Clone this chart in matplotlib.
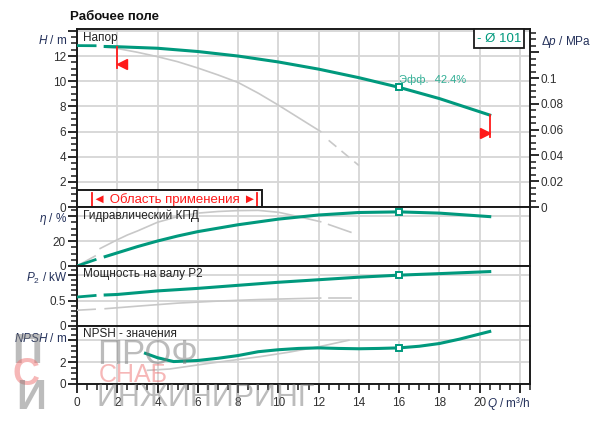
import matplotlib

matplotlib.use("Agg")
import matplotlib.pyplot as plt
from matplotlib.patches import Rectangle
from matplotlib.ticker import MultipleLocator, FixedLocator, FixedFormatter

plt.rcParams["font.family"] = ["Liberation Sans", "DejaVu Sans"]
plt.rcParams["mathtext.fontset"] = "custom"
plt.rcParams["mathtext.it"] = "Liberation Sans:italic"
plt.rcParams["mathtext.rm"] = "Liberation Sans"

GREEN = "#00997d"
GREEN_TXT = "#2fae94"
GRAY = "#c8c8c8"
RED = "#ff1a1a"
GRID = "#d6d6d6"
LABEL = "#23305a"
TICK = "#303030"

# --- head (main impeller, green) ---
q_h_dash = [0.0, 0.9]
h_dash = [12.83, 12.82]
q_h = [1.4, 2, 4, 6, 8, 10, 12, 14, 16, 18, 20.5]
h_main = [12.76, 12.74, 12.62, 12.36, 12.0, 11.53, 10.96, 10.28, 9.51, 8.62, 7.31]

# --- head (gray reference curve) ---
q_hg = [1.4, 2, 3, 4, 5, 6, 7, 8, 9, 10, 11, 12.1]
h_gray = [12.7, 12.6, 12.3, 11.95, 11.55, 11.05, 10.5, 9.9, 9.05, 8.1, 7.1, 6.0]
q_hg_end = [12.5, 14.0]
h_gray_end = [5.3, 3.3]

# --- efficiency ---
q_eta_dash = [0.0, 0.9]
eta_dash = [0.0, 5.0]
q_eta = [1.4, 2, 3, 4, 5, 6, 8, 10, 12, 14, 16, 18, 20.5]
eta_main = [7.5, 10.5, 15.5, 20.0, 24.0, 27.5, 33.0, 37.5, 40.8, 42.8, 43.3, 42.3, 39.5]
q_etag_dash = [0.0, 0.9]
etag_dash = [0.0, 8.0]
q_etag = [1.15, 2, 2.5, 3, 4, 5, 6, 7, 8, 9, 10, 11, 12.1]
eta_gray = [14.0, 21.0, 24.8, 28.0, 35.0, 39.5, 42.3, 43.6, 44.3, 44.5, 43.0, 39.5, 35.4]
q_etag_end = [12.5, 13.6]
etag_end = [33.2, 27.0]

# --- shaft power P2 ---
q_p_dash = [0.0, 0.9]
p_dash = [0.57, 0.60]
q_p = [1.4, 2, 4, 6, 8, 10, 12, 14, 16, 18, 20.5]
p_main = [0.61, 0.62, 0.69, 0.74, 0.80, 0.86, 0.91, 0.96, 1.0, 1.03, 1.07]
q_pg_dash = [0.0, 0.9]
pg_dash = [0.31, 0.33]
q_pg = [1.4, 3, 5, 7, 9, 12.1]
p_gray = [0.34, 0.39, 0.45, 0.49, 0.52, 0.55]
q_pg_end = [12.5, 13.6]
pg_end = [0.56, 0.56]

# --- NPSH ---
q_n = [3.4, 4, 4.8, 6, 7, 8, 9, 10, 11, 12, 13, 14, 15, 16, 17, 18, 19, 20.5]
npsh_main = [2.8, 2.4, 2.05, 2.15, 2.35, 2.6, 2.95, 3.13, 3.25, 3.3, 3.25, 3.22,
             3.25, 3.3, 3.45, 3.7, 4.1, 4.8]
q_ng = [3.5, 4.6, 6.6, 9.1, 10.5, 12, 13.5]
npsh_gray = [1.25, 1.37, 1.9, 2.5, 2.9, 3.4, 4.0]

# duty point
q_duty = 16
h_duty = 9.51
eta_duty = 43.3
p_duty = 1.0
npsh_duty = 3.3

# operating limits (red marks)
lim_q = [2.0, 20.5]
lim_top = [12.74, 7.31]
lim_bot = [11.07, 5.6]
lim_arrow_q = [2.25, 20.27]
lim_arrow_h = [11.34, 5.9]

# application range box
range_q = [0.75, 8.95]

X_MAX = 22.5
W, H = 600, 429


def fx(px):
    return px / W


def fy(py):
    return 1 - py / H


fig = plt.figure(figsize=(6.0, 4.29), dpi=100)

left, right = 77, 530
panels = [(29, 207), (207, 266), (266, 326), (326, 384)]
axes = []
for top, bot in panels:
    ax = fig.add_axes([fx(left), fy(bot), fx(right - left), (bot - top) / H])
    axes.append(ax)
ax_h, ax_e, ax_p, ax_n = axes

ylims = [(0, 14.15), (0, 47.2), (0, 1.18), (0, 5.3)]
majors = [list(range(0, 15, 2)), [0, 20, 40], [0, 0.5, 1.0], [0, 2, 4]]
major_lbl = [["0", "2", "4", "6", "8", "10", "12", ""], ["0", "20", ""],
             ["0", "0.5", ""], ["0", "2", ""]]
minors = [0.5, 5, 0.1, 0.5]

for ax, yl, mj, ml, mn in zip(axes, ylims, majors, major_lbl, minors):
    ax.set_xlim(0, X_MAX)
    ax.set_ylim(*yl)
    ax.yaxis.set_major_locator(FixedLocator(mj))
    ax.yaxis.set_major_formatter(FixedFormatter(ml))
    ax.yaxis.set_minor_locator(MultipleLocator(mn))
    ax.xaxis.set_major_locator(MultipleLocator(2))
    ax.xaxis.set_minor_locator(MultipleLocator(0.5))
    ax.grid(True, which="major", color=GRID, lw=1.3, zorder=0)
    ax.set_axisbelow(True)
    for s in ax.spines.values():
        s.set_color("#1a1a1a")
        s.set_linewidth(1.4)
    ax.tick_params(axis="y", which="major", direction="out", length=6.5, width=1.3,
                   color="#1a1a1a", labelsize=8.5, labelcolor=TICK, pad=1.5)
    ax.tick_params(axis="y", which="minor", direction="out", length=4, width=1.1,
                   color="#1a1a1a")
    if ax is not ax_n:
        ax.tick_params(axis="x", which="both", bottom=False, labelbottom=False)

ax_n.tick_params(axis="x", which="major", direction="out", length=6.5, width=1.3,
                 color="#1a1a1a", labelsize=8.5, labelcolor=TICK, pad=3)
ax_n.tick_params(axis="x", which="minor", direction="out", length=4, width=1.1,
                 color="#1a1a1a")
ax_n.xaxis.set_major_locator(FixedLocator(list(range(0, 23, 2))))
ax_n.xaxis.set_major_formatter(FixedFormatter([str(v) for v in range(0, 21, 2)] + [""]))

# --- head panel ---
ax_h.plot(q_h_dash, h_dash, color=GREEN, lw=2.0, zorder=4)
ax_h.plot(q_h, h_main, color=GREEN, lw=2.2, zorder=4)
ax_h.plot(q_hg, h_gray, color=GRAY, lw=1.2, zorder=3)
ax_h.plot(q_hg_end, h_gray_end, color=GRAY, lw=1.2, dashes=(6, 4), zorder=3)
ax_h.plot([q_duty], [h_duty], marker="s", ms=5, mfc="white", mec=GREEN, mew=1.4, zorder=6)
ax_h.text(q_duty, h_duty + 0.2, "Эфф.  42.4%", color=GREEN_TXT, fontsize=8,
          ha="left", va="bottom", zorder=6)
for q0, t, b in zip(lim_q, lim_top, lim_bot):
    ax_h.plot([q0, q0], [t, b], color=RED, lw=1.3, zorder=5)
ax_h.plot([lim_arrow_q[0]], [lim_arrow_h[0]], marker="<", ms=7, color=RED, zorder=5)
ax_h.plot([lim_arrow_q[1]], [lim_arrow_h[1]], marker=">", ms=7, color=RED, zorder=5)

ax_h.add_patch(Rectangle((0, 0), 9.2, 1.35, facecolor="white", edgecolor="#1a1a1a",
                         lw=1.4, zorder=5, clip_on=False))
for q0 in range_q:
    ax_h.plot([q0, q0], [0.05, 1.15], color=RED, lw=1.3, zorder=6)
ax_h.text(sum(range_q) / 2, 0.6, "◄ Область применения ►", color=RED, fontsize=9.5,
          ha="center", va="center", zorder=6)
ax_h.text(0.3, 13.95, "Напор", fontsize=8.5, color="#222222",
          ha="left", va="top", zorder=6)

# diameter legend box
fig.text(fx(499), fy(38.5), "- Ø 101", color=GREEN, fontsize=9.5, ha="center",
         va="center", bbox=dict(boxstyle="square,pad=0.25", fc="white", ec="#1a1a1a",
                                lw=1.3))

# right axis dp
ax_dp = ax_h.twinx()
ax_dp.set_ylim(0, 14.15 / 102.5)
ax_dp.yaxis.set_major_locator(FixedLocator([0, 0.02, 0.04, 0.06, 0.08, 0.1, 0.12]))
ax_dp.yaxis.set_major_formatter(FixedFormatter(["0", "0.02", "0.04", "0.06", "0.08",
                                                "0.1", ""]))
ax_dp.yaxis.set_minor_locator(MultipleLocator(0.005))
ax_dp.tick_params(axis="y", which="major", direction="out", length=6.5, width=1.3,
                  color="#1a1a1a", labelsize=8.5, labelcolor=TICK, pad=1)
ax_dp.tick_params(axis="y", which="minor", direction="out", length=4, width=1.1,
                  color="#1a1a1a")
for s in ax_dp.spines.values():
    s.set_visible(False)
fig.text(fx(541), fy(42), r"$\Delta p$ / MPa", fontsize=8.5, color=LABEL,
         ha="left", va="center")

# --- efficiency panel ---
ax_e.plot(q_eta_dash, eta_dash, color=GREEN, lw=2.0, zorder=4)
ax_e.plot(q_eta, eta_main, color=GREEN, lw=2.2, zorder=4)
ax_e.plot(q_etag_dash, etag_dash, color=GRAY, lw=1.2, zorder=3)
ax_e.plot(q_etag, eta_gray, color=GRAY, lw=1.2, zorder=3)
ax_e.plot(q_etag_end, etag_end, color=GRAY, lw=1.2, zorder=3)
ax_e.plot([q_duty], [eta_duty], marker="s", ms=5, mfc="white", mec=GREEN, mew=1.4,
          zorder=6, clip_on=False)
ax_e.text(0.3, 45.5, "Гидравлический КПД", fontsize=8.5, color="#222222",
          ha="left", va="top", zorder=6)

# --- power panel ---
ax_p.plot(q_p_dash, p_dash, color=GREEN, lw=2.0, zorder=4)
ax_p.plot(q_p, p_main, color=GREEN, lw=2.2, zorder=4)
ax_p.plot(q_pg_dash, pg_dash, color=GRAY, lw=1.2, zorder=3)
ax_p.plot(q_pg, p_gray, color=GRAY, lw=1.2, zorder=3)
ax_p.plot(q_pg_end, pg_end, color=GRAY, lw=1.2, zorder=3)
ax_p.plot([q_duty], [p_duty], marker="s", ms=5, mfc="white", mec=GREEN, mew=1.4, zorder=6)
ax_p.text(0.3, 1.15, "Мощность на валу P2", fontsize=8.5, color="#222222",
          ha="left", va="top", zorder=6)

# --- NPSH panel ---
ax_n.plot(q_n, npsh_main, color=GREEN, lw=2.2, zorder=4)
ax_n.plot(q_ng, npsh_gray, color=GRAY, lw=1.2, zorder=3)
ax_n.plot([q_duty], [npsh_duty], marker="s", ms=5, mfc="white", mec=GREEN, mew=1.4,
          zorder=6)
ax_n.text(0.3, 5.15, "NPSH - значения", fontsize=8.5, color="#222222",
          ha="left", va="top", zorder=6)

# axis labels (in place of top tick labels)
fig.text(fx(67), fy(41), r"$H$ / m", fontsize=8.5, color=LABEL, ha="right", va="center")
fig.text(fx(67), fy(219), r"$\eta$ / %", fontsize=8.5, color=LABEL, ha="right", va="center")
fig.text(fx(67), fy(278), r"$P_2$ / kW", fontsize=8.5, color=LABEL, ha="right", va="center")
fig.text(fx(67), fy(338), r"$NPSH$ / m", fontsize=8.5, color=LABEL, ha="right",
         va="center")
fig.text(fx(487), fy(403), r"$Q$ / m³/h", fontsize=8.5, color=LABEL, ha="left",
         va="center")

fig.text(fx(70), fy(17), "Рабочее поле", fontsize=9.5, fontweight="bold",
         color="#111111", ha="left", va="center")

# watermark
wm = dict(alpha=0.5, zorder=20, va="center", ha="left")
fig.text(fx(97), fy(354), "ПРОФ", fontsize=25, color="#7a7a7a", **wm)
fig.text(fx(99), fy(375), "СНАБ", fontsize=18, color="#ee7070", **wm)
fig.text(fx(97), fy(398), "ИНЖИНИРИНГ", fontsize=22, color="#7a7a7a", **wm)
fig.text(fx(12), fy(352), "П", fontsize=30, color="#7a7a7a", fontweight="bold", **wm)
fig.text(fx(12), fy(375), "С", fontsize=27, color="#ee7070", fontweight="bold", **wm)
fig.text(fx(16), fy(398), "И", fontsize=30, color="#7a7a7a", fontweight="bold", **wm)

fig.savefig("out.png", dpi=100)
